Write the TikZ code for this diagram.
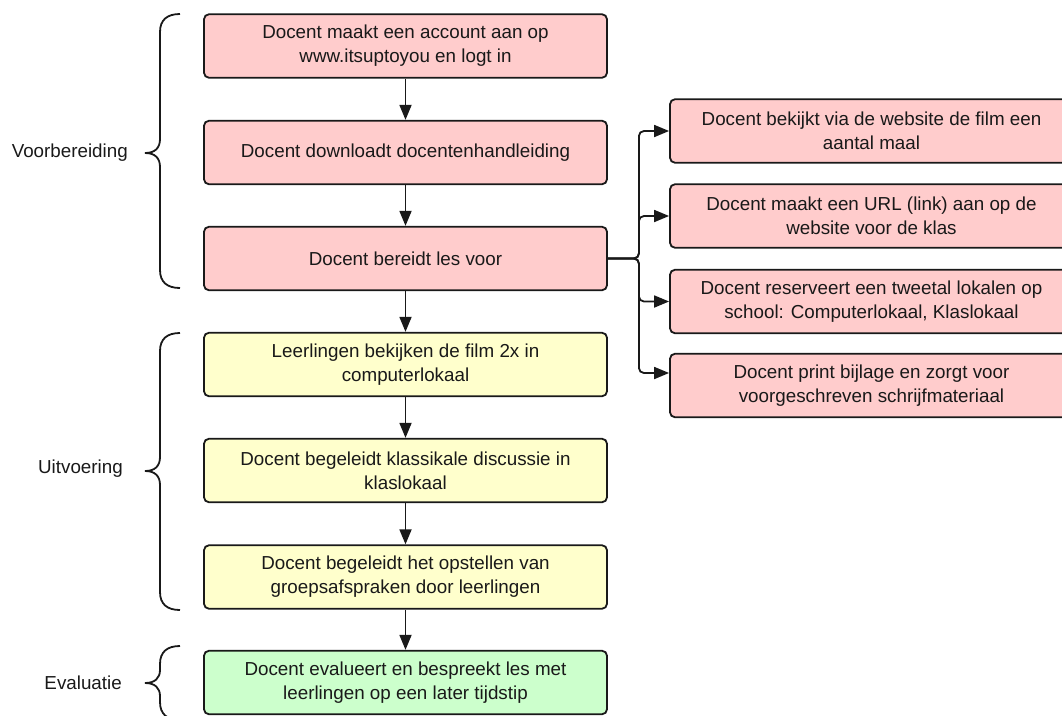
\documentclass[tikz,border=0pt]{standalone}
\usepackage{fontspec}
\setmainfont{Liberation Sans}
\usetikzlibrary{arrows.meta}
\definecolor{pinkfill}{RGB}{255,204,204}
\definecolor{yellowfill}{RGB}{255,255,204}
\definecolor{greenfill}{RGB}{204,255,204}
\definecolor{ink}{RGB}{25,25,25}
\begin{document}
\begin{tikzpicture}[x=1pt,y=-1pt,
  box/.style={draw=ink, line width=1.8pt, rounded corners=5pt, minimum width=403pt,
    minimum height=63.5pt, align=center, inner sep=0pt, text=ink,
    font=\fontsize{18.8}{24}\selectfont},
  pinkbox/.style={box, fill=pinkfill},
  yellowbox/.style={box, fill=yellowfill},
  greenbox/.style={box, fill=greenfill},
  lbl/.style={anchor=east, inner sep=0pt, text=ink, font=\fontsize{18.8}{24}\selectfont},
  arr/.style={draw=ink, line width=1.8pt, -{Triangle[length=15pt,width=12pt]}},
  bracestyle/.style={draw=ink, line width=1.8pt}
]
\useasboundingbox (0,0) rectangle (1062,715);
\clip (0,0) rectangle (1062,715);

% main column
\node[pinkbox]   (B1) at (405.5,46)    {Docent maakt een account aan op\\www.itsuptoyou en logt in};
\node[pinkbox]   (B2) at (405.5,152.5) {Docent downloadt docentenhandleiding};
\node[pinkbox]   (B3) at (405.5,258.5) {Docent bereidt les voor};
\node[yellowbox] (B4) at (405.5,364.5) {Leerlingen bekijken de film 2x in\\computerlokaal};
\node[yellowbox] (B5) at (405.5,470.5) {Docent begeleidt klassikale discussie in\\klaslokaal};
\node[yellowbox] (B6) at (405.5,577)   {Docent begeleidt het opstellen van\\groepsafspraken door leerlingen};
\node[greenbox]  (B7) at (405.5,682.5) {Docent evalueert en bespreekt les met\\leerlingen op een later tijdstip};

% right column
\node[pinkbox] (R1) at (871.5,131)   {Docent bekijkt via de website de film een\\aantal maal};
\node[pinkbox] (R2) at (871.5,216)   {Docent maakt een URL (link) aan op de\\website voor de klas};
\node[pinkbox] (R3) at (871.5,301.5) {Docent reserveert een tweetal lokalen op\\school: Computerlokaal, Klaslokaal};
\node[pinkbox] (R4) at (871.5,385.5) {Docent print bijlage en zorgt voor\\voorgeschreven schrijfmateriaal};

% vertical arrows
\draw[arr] (B1) -- (B2);
\draw[arr] (B2) -- (B3);
\draw[arr] (B3) -- (B4);
\draw[arr] (B4) -- (B5);
\draw[arr] (B5) -- (B6);
\draw[arr] (B6) -- (B7);

% branch
\draw[arr, rounded corners=5pt] (B3.east) -- ++(31,0) |- (R1.west);
\draw[arr, rounded corners=5pt] (B3.east) -- ++(31,0) |- (R2.west);
\draw[arr, rounded corners=5pt] (B3.east) -- ++(31,0) |- (R3.west);
\draw[arr, rounded corners=5pt] (B3.east) -- ++(31,0) |- ([yshift=12.5pt]R4.west);

% braces
\draw[bracestyle] (180,14) .. controls (167,14) and (160,20) .. (160,32)
  -- (160,139) .. controls (160,148) and (155,153) .. (145,153)
  .. controls (155,153) and (160,158) .. (160,167)
  -- (160,270) .. controls (160,282) and (167,288) .. (180,288);
\draw[bracestyle] (180,333) .. controls (167,333) and (160,339) .. (160,351)
  -- (160,457) .. controls (160,466) and (155,471) .. (145,471)
  .. controls (155,471) and (160,476) .. (160,485)
  -- (160,592) .. controls (160,604) and (167,610) .. (180,610);
\draw[bracestyle] (180,646) .. controls (167,646) and (160,652) .. (160,664)
  -- (160,670) .. controls (160,678) and (155,683) .. (145,683)
  .. controls (155,683) and (160,688) .. (160,696)
  -- (160,702) .. controls (160,714) and (167,720) .. (180,720);

% labels
\node[lbl] (L1) at (128,153) {Voorbereiding};
\node[lbl] (L2) at (123,469) {Uitvoering};
\node[lbl] (L3) at (122,683) {Evaluatie};
\end{tikzpicture}
\end{document}
